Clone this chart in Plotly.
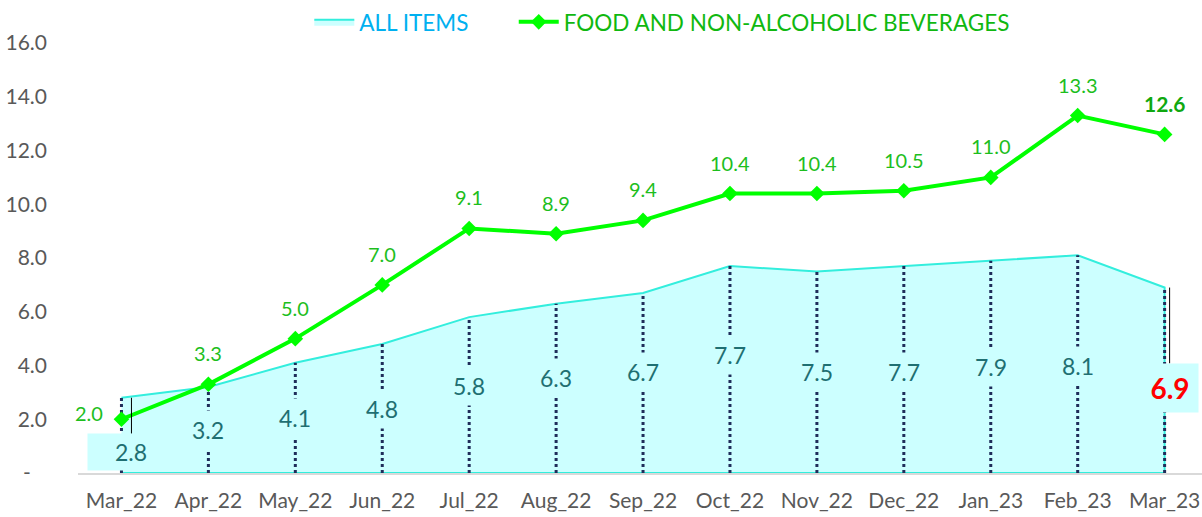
import plotly.graph_objects as go

months = ["Mar_22", "Apr_22", "May_22", "Jun_22", "Jul_22", "Aug_22", "Sep_22",
          "Oct_22", "Nov_22", "Dec_22", "Jan_23", "Feb_23", "Mar_23"]
all_items = [2.8, 3.2, 4.1, 4.8, 5.8, 6.3, 6.7, 7.7, 7.5, 7.7, 7.9, 8.1, 6.9]
food = [2.0, 3.3, 5.0, 7.0, 9.1, 8.9, 9.4, 10.4, 10.4, 10.5, 11.0, 13.3, 12.6]
y_ticks = [0, 2, 4, 6, 8, 10, 12, 14, 16]
y_ticktext = ["-\u00a0\u00a0\u00a0"] + [f"{v:.1f}" for v in y_ticks[1:]]

# label placement (fraction of the column height where the All-items label sits)
label_frac = [0.28, 0.5, 0.5, 0.5, 0.56, 0.56, 0.56, 0.57, 0.5, 0.49, 0.5, 0.49, 0.46]

FONT = "Lato"
AREA_FILL = "#CCFFFF"
AREA_LINE = "#33EEDD"
FOOD_LINE = "#00FF00"
FOOD_TEXT = "#1DBE1D"
TEAL_TEXT = "#1F6F72"
NAVY = "#1F2D5A"

fig = go.Figure()

# All items area (closed polygon so its outline includes the right edge)
fig.add_trace(go.Scatter(
    x=months + [months[-1], months[0]],
    y=all_items + [0, 0],
    mode="lines",
    fill="toself",
    fillcolor=AREA_FILL,
    line=dict(color=AREA_LINE, width=2),
    name='<span style="color:#00B0F0">ALL ITEMS</span>' + "\u00a0" * 7,
    hoverinfo="skip",
))

# dotted drop lines
dx, dy = [], []
for m, v in zip(months, all_items):
    dx += [m, m, None]
    dy += [0, v, None]
fig.add_trace(go.Scatter(
    x=dx, y=dy, mode="lines",
    line=dict(color=NAVY, width=3, dash="dot"),
    showlegend=False, hoverinfo="skip",
))

# Food line
fig.add_trace(go.Scatter(
    x=months, y=food, mode="lines+markers",
    line=dict(color=FOOD_LINE, width=4),
    marker=dict(symbol="diamond", size=12, color=FOOD_LINE),
    name='<span style="color:#10B810">FOOD AND NON-ALCOHOLIC BEVERAGES</span>',
))

# Food labels
for i, (m, v) in enumerate(zip(months, food)):
    last = i == len(months) - 1
    if i == 0:
        fig.add_annotation(x=m, y=v, text=f"{v:.1f}", showarrow=False,
                           xshift=-32, yshift=6,
                           font=dict(family=FONT, size=20, color=FOOD_TEXT))
    else:
        fig.add_annotation(x=m, y=v, text=(f"<b>{v:.1f}</b>" if last else f"{v:.1f}"),
                           showarrow=False, yshift=31,
                           font=dict(family=FONT, size=21 if last else 20,
                                     color="#10A810" if last else FOOD_TEXT))

# All items labels
for i, (m, v) in enumerate(zip(months, all_items)):
    ly = v * label_frac[i]
    if i == 0:
        fig.add_annotation(x=m, y=v, ax=m, ay=ly, axref="x", ayref="y",
                           text=f"{v:.1f}", showarrow=True, arrowhead=0,
                           arrowwidth=1, arrowcolor="black", standoff=0,
                           bgcolor=AREA_FILL, width=80, height=30, borderpad=3,
                           xshift=10,
                           font=dict(family=FONT, size=23, color=TEAL_TEXT))
    elif i == len(months) - 1:
        fig.add_annotation(x=m, y=v, ax=m, ay=ly, axref="x", ayref="y",
                           text=f"<b>{v:.1f}</b>", showarrow=True, arrowhead=0,
                           arrowwidth=1, arrowcolor="black", standoff=0,
                           bgcolor=AREA_FILL, width=48, height=40, borderpad=4,
                           xshift=5,
                           font=dict(family=FONT, size=28, color="#FF0000"))
    else:
        fig.add_annotation(x=m, y=ly, text=f"{v:.1f}", showarrow=False,
                           bgcolor=AREA_FILL, borderpad=5,
                           font=dict(family=FONT, size=23, color=TEAL_TEXT))

fig.update_layout(
    width=1202, height=517,
    margin=dict(l=78, r=0, t=43, b=44, autoexpand=False),
    paper_bgcolor="white", plot_bgcolor="white",
    font=dict(family=FONT, size=21, color="#595959"),
    showlegend=True,
    legend=dict(orientation="h", xref="container", yref="container",
                x=0.551, xanchor="center", y=0.957, yanchor="middle",
                font=dict(family=FONT, size=22.5), traceorder="normal",
                itemwidth=40, bgcolor="rgba(0,0,0,0)"),
    xaxis=dict(type="category", categoryorder="array", categoryarray=months,
               range=[-0.5, 12.43], showgrid=False, showline=True,
               linecolor="#D9D9D9", linewidth=2, ticks="", zeroline=False,
               automargin=False,
               tickfont=dict(family=FONT, size=21, color="#595959"),
               ticklabelstandoff=8),
    yaxis=dict(range=[0, 16], tickvals=y_ticks, ticktext=y_ticktext,
               showgrid=False, showline=False, zeroline=False, ticks="",
               automargin=False,
               tickfont=dict(family=FONT, size=21, color="#595959"),
               ticklabelstandoff=30),
)

fig.write_html("out.html", config={"displayModeBar": False},
               post_script="document.body.style.margin='0';")
